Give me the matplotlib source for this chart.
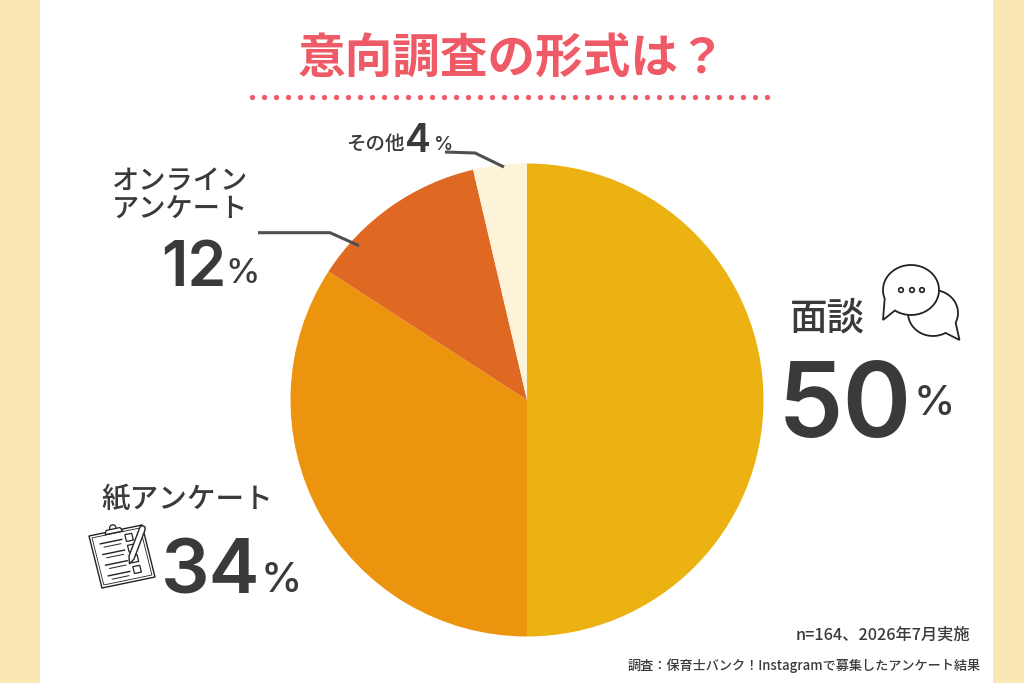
import matplotlib
matplotlib.use("Agg")
import matplotlib.pyplot as plt
from matplotlib.patches import Rectangle, Circle, Polygon
import numpy as np

categories = ["面談", "紙アンケート", "オンライン\nアンケート", "その他"]
counts = [82, 56, 20, 6]
percent_labels = ["50", "34", "12", "4"]
colors = ["#ECB212", "#EC940E", "#DF6823", "#FDF3D8"]
title = "意向調査の形式は？"
note1 = "n=164、2026年7月実施"
note2 = "調査：保育士バンク！Instagramで募集したアンケート結果"

JP = ["Noto Sans CJK JP", "DejaVu Sans"]
NUM = ["Inter", "DejaVu Sans"]
INK = "#3A3A3A"
W, H = 1024, 683

fig = plt.figure(figsize=(W / 100, H / 100), dpi=100, facecolor="white")
ax = fig.add_axes([0, 0, 1, 1])
Y = lambda y: H - y

ax.pie(counts, colors=colors, startangle=90, counterclock=False,
       center=(527, Y(400)), radius=236.5, frame=True)
ax.set_xlim(0, W)
ax.set_ylim(0, H)
ax.set_aspect("auto")
ax.axis("off")

ax.add_patch(Rectangle((0, 0), 40, H, color="#FAE7B4", lw=0))
ax.add_patch(Rectangle((993, 0), 31, H, color="#FAE7B4", lw=0))

ax.text(512, Y(60), title, family=JP, fontsize=34.3, weight="bold", color="#EE5A66",
        ha="center", va="center")
dot_x = np.arange(252, 770, 11.98)
ax.plot(dot_x, [Y(97)] * len(dot_x), "o", ms=3.8, color="#EE5A66", mew=0)


def txt(x, y, s, size, fam=JP, weight="medium", ha="left", va="center"):
    ax.text(x, Y(y), s, family=fam, fontsize=size, weight=weight, color=INK, ha=ha, va=va)


def num(x, y, s, size, weight="semibold"):
    txt(x, y, s, size, NUM, weight, va="baseline")


txt(790, 319, categories[0], 27)
num(778, 437, percent_labels[0], 75)
num(914, 415, "%", 30, "medium")

txt(101, 500, categories[1], 20.6)
num(161, 594, percent_labels[1], 55)
num(261, 592, "%", 30, "medium")

lines = categories[2].split("\n")
txt(112, 181, lines[0], 19.6)
txt(112, 210, lines[1], 19.6)
num(161, 286, percent_labels[2], 45)
num(225, 283, "%", 25, "medium")

txt(346, 144, categories[3], 14)
num(405, 152, percent_labels[3], 28)
num(434, 150, "%", 14, "medium")

txt(796, 635, note1, 11.7)
txt(628, 666, note2, 9.46)

LINE = "#505050"
ax.plot([258, 330, 359], [Y(232.7), Y(232.7), Y(245.7)], color=LINE, lw=2.2, solid_capstyle="butt")
ax.plot([445, 475, 504], [Y(152), Y(153), Y(167)], color=LINE, lw=2.2, solid_capstyle="butt")


def bubble(cx, cy, rx, ry, a0, a1, tip):
    t = np.radians(np.linspace(a0, a1, 80))
    pts = np.c_[cx + rx * np.cos(t), Y(cy) + ry * np.sin(t)]
    pts = np.r_[pts, [[tip[0], Y(tip[1])]]]
    ax.add_patch(Polygon(pts, closed=True, fc="white", ec="#222222", lw=1.3, joinstyle="miter"))


bubble(933, 313, 25, 23, -25, 300, (959.5, 340))
bubble(911, 290, 28, 25, 235, 560, (883, 320))
for x in (901, 912, 922):
    ax.add_patch(Circle((x, Y(290)), 2.3, fc="white", ec="#222222", lw=1.2))

# clipboard icon
corner = np.array([89, 536.0])
u = np.array([53, -11.0]) / 54
v = np.array([13, 52.0]) / 53.6


def cp(a, b):
    p = corner + a * u + b * v
    return p[0], Y(p[1])


ax.add_patch(Polygon([cp(0, 0), cp(54, 0), cp(54, 53.6), cp(0, 53.6)], closed=True,
                     fc="white", ec="#222222", lw=1.0))
ax.add_patch(Polygon([cp(2.5, 2.5), cp(51.5, 2.5), cp(51.5, 51), cp(2.5, 51)], closed=True,
                     fill=False, ec="#222222", lw=.6))
ax.add_patch(Circle(cp(25, -3), 3.2, fc="white", ec="#222222", lw=.9))
ax.add_patch(Polygon([cp(16, 2), cp(18, -2), cp(32, -2), cp(34, 2)], closed=True,
                     fc="white", ec="#222222", lw=.9))
for b in (10, 21, 32, 43):
    xs, ys = zip(cp(9, b), cp(31, b))
    ax.plot(xs, ys, color="#222222", lw=1.0)
    xs, ys = zip(cp(12, b + 4), cp(29, b + 4))
    ax.plot(xs, ys, color="#222222", lw=.7)
    ax.add_patch(Polygon([cp(35, b - 4), cp(42, b - 4), cp(42, b + 3), cp(35, b + 3)], closed=True,
                         fc="white", ec="#222222", lw=.9))
ax.add_patch(Polygon([(129.5, Y(564)), (129, Y(556)), (140, Y(527)), (142, Y(525.5)), (145, Y(527)),
                      (145, Y(530)), (134, Y(559))],
                     closed=True, fc="white", ec="#222222", lw=1, zorder=5))

fig.savefig("out.png", dpi=100, facecolor="white")
